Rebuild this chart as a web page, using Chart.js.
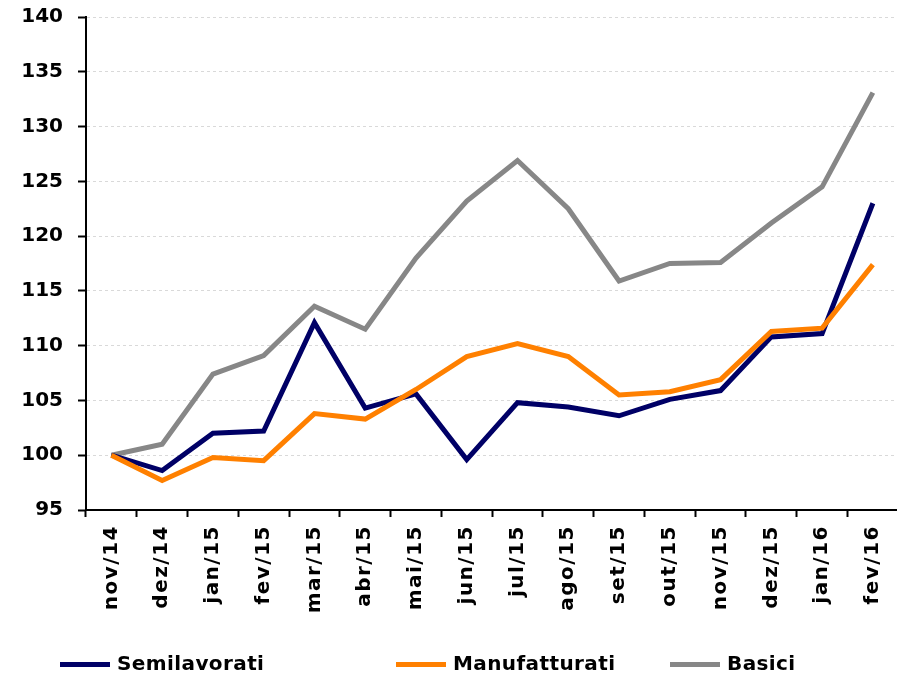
<!DOCTYPE html>
<html>
<head>
<meta charset="utf-8">
<script src="https://cdn.jsdelivr.net/npm/chart.js@4"></script>
<style>
  html, body { margin: 0; padding: 0; background: #fff; overflow: hidden; }
  #wrap { position: relative; width: 905px; height: 674px; }
  #legend { position: absolute; left: 0; top: 651px; width: 897px; height: 24px;
            font: bold 20px "DejaVu Sans", Verdana, sans-serif; color: #000; letter-spacing: 0.4px; }
  .item { position: absolute; top: 0; white-space: nowrap; }
  .swatch { display: inline-block; width: 50px; height: 5px; vertical-align: middle; margin-right: 7px; }
</style>
</head>
<body>
<div id="wrap">
  <canvas id="chart" width="905" height="674"></canvas>
  <div id="legend"></div>
</div>
<script>
// Categorias (meses)
const months = ['nov/14', 'dez/14', 'jan/15', 'fev/15', 'mar/15', 'abr/15', 'mai/15', 'jun/15',
                'jul/15', 'ago/15', 'set/15', 'out/15', 'nov/15', 'dez/15', 'jan/16', 'fev/16'];

// Séries (índice, nov/14 = 100)
const semilavorati = [100, 98.6, 102.0, 102.2, 112.1, 104.3, 105.6, 99.6,
                      104.8, 104.4, 103.6, 105.1, 105.9, 110.8, 111.1, 123.0];
const manufatturati = [100, 97.7, 99.8, 99.5, 103.8, 103.3, 106.0, 109.0,
                       110.2, 109.0, 105.5, 105.8, 106.9, 111.3, 111.6, 117.4];
const basici = [100, 101.0, 107.4, 109.1, 113.6, 111.5, 118.0, 123.2,
                126.9, 122.5, 115.9, 117.5, 117.6, 121.2, 124.5, 133.1];

// Eixo Y
const yMin = 95, yMax = 140, yStep = 5;

const fontFamily = '"DejaVu Sans", Verdana, sans-serif';

const datasets = [
  { label: 'Semilavorati', data: semilavorati, borderColor: '#000066', order: 2 },
  { label: 'Manufatturati', data: manufatturati, borderColor: '#ff8000', order: 1 },
  { label: 'Basici', data: basici, borderColor: '#878787', order: 3 }
].map(d => ({ ...d, borderWidth: 5, pointRadius: 0, tension: 0, fill: false,
              borderJoinStyle: 'miter', borderCapStyle: 'butt' }));

// Espaçamento extra entre letras só nos rótulos do eixo X
const xLetterSpacing = {
  id: 'xLetterSpacing',
  afterLayout(chart) {
    const s = chart.scales.x;
    if (s._patched) return;
    const orig = s.drawLabels;
    s.drawLabels = function (area) {
      const c = this.ctx;
      c.save();
      c.letterSpacing = '1.5px';
      orig.call(this, area);
      c.restore();
    };
    s._patched = true;
  }
};

const ctx = document.getElementById('chart').getContext('2d');
new Chart(ctx, {
  type: 'line',
  data: { labels: months, datasets },
  plugins: [xLetterSpacing],
  options: {
    responsive: false,
    animation: false,
    layout: { padding: { left: 0, right: 4, top: 17, bottom: 0 } },
    plugins: { legend: { display: false }, tooltip: { enabled: false } },
    scales: {
      x: {
        offset: true,
        grid: { drawOnChartArea: false, drawTicks: true, tickLength: 7, tickColor: '#000', tickWidth: 2, offset: true },
        border: { color: '#000', width: 2 },
        ticks: {
          color: '#000', font: { family: fontFamily, size: 20, weight: 'bold' },
          minRotation: 90, maxRotation: 90, padding: 8, autoSkip: false
        },
        afterFit: s => { s.height = 164; }
      },
      y: {
        min: yMin, max: yMax,
        grid: { color: '#d9d9d9', lineWidth: 1, tickColor: '#000', tickWidth: 2, tickLength: 8 },
        border: { color: '#000', width: 2, dash: [3, 3] },
        ticks: {
          stepSize: yStep, color: '#000', padding: 15,
          font: { family: fontFamily, size: 20, weight: 'bold' }
        },
        afterFit: s => { s.width = 86; s.paddingTop = 0; s.paddingBottom = 0; }
      }
    }
  }
});

// Legenda manual na parte de baixo
const legendLeft = [60, 396, 670];
const legend = document.getElementById('legend');
datasets.forEach((d, i) => {
  const item = document.createElement('div');
  item.className = 'item';
  item.style.left = legendLeft[i] + 'px';
  item.innerHTML = `<span class="swatch" style="background:${d.borderColor}"></span>${d.label}`;
  legend.appendChild(item);
});
</script>
</body>
</html>
